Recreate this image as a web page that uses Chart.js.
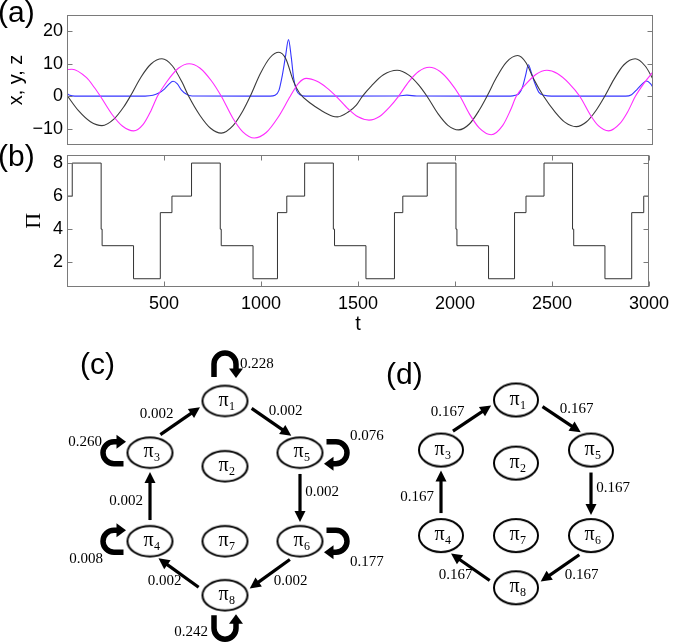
<!DOCTYPE html>
<html><head><meta charset="utf-8">
<script src="https://cdn.jsdelivr.net/npm/chart.js@4.4.0/dist/chart.umd.min.js"></script>
<style>
html,body{margin:0;padding:0;background:#fff;}
body{width:675px;height:642px;position:relative;overflow:hidden;}
canvas{position:absolute;}
.lbl{position:absolute;font-family:"Liberation Sans",Arial,sans-serif;font-size:30px;line-height:30px;color:#000;white-space:nowrap;}
</style></head><body>
<canvas id="ca" width="675" height="160" style="left:0;top:0"></canvas>
<canvas id="cb" width="675" height="200" style="left:0;top:140px"></canvas>
<canvas id="cc" width="360" height="302" style="left:40px;top:340px"></canvas>
<canvas id="cd" width="295" height="302" style="left:380px;top:340px"></canvas>
<div class="lbl" style="left:-2px;top:-3px">(a)</div>
<div class="lbl" style="left:-2px;top:141px">(b)</div>
<div class="lbl" style="left:80px;top:349px">(c)</div>
<div class="lbl" style="left:386px;top:359px">(d)</div>
<script>
// ===== DATA =====
// panel (a): x (black), y (magenta), z (blue) versus t
const tX = [0,60,120,179,240,290,324,380,430,486,540,590,623,680,735,790,850,900,938,990,1040,1085,1120,1160,1190,1250,1300,1360,1385,1440,1480,1512,1560,1620,1690,1750,1800,1843,1900,1950,2005,2060,2110,2150,2200,2250,2307,2350,2390,2440,2500,2550,2607,2660,2710,2753,2800,2850,2909,2960,3000];
const xVals = [0.3,-4.5,-7.8,-9.0,-7.0,-3.3,0,6.0,9.9,11.5,9.3,4.2,0,-5.8,-9.8,-11.3,-9.0,-4.5,0,7.0,11.9,13.5,11.5,4.5,1.0,-2.3,-4.3,-6.1,-6.3,-4.8,-2.8,0,3.3,6.6,8.0,6.5,3.5,0,-5.4,-8.9,-10.3,-8.5,-4.3,0,5.9,10.5,12.5,10.3,5.2,0,-4.9,-8.0,-9.3,-7.8,-4.2,0,5.2,9.6,11.5,9.3,5.3];
const tY = [0,25,100,140,171,230,285,341,390,430,463,510,570,625,680,740,790,850,900,959,1020,1080,1143,1185,1225,1280,1330,1378,1440,1490,1546,1600,1650,1697,1750,1800,1855,1910,1960,2012,2060,2110,2172,2230,2270,2300,2350,2400,2457,2510,2570,2625,2680,2720,2773,2830,2870,2910,2960,3000];
const yVals = [8.2,8.3,5.7,2.7,0,-5.5,-9.2,-10.6,-8.6,-4.4,0,4.4,8.6,10.0,8.7,4.7,0,-6.8,-10.9,-12.8,-11.1,-6.5,0,4.0,5.5,4.6,2.6,0,-3.9,-6.3,-7.3,-6.2,-3.4,0,4.5,7.6,8.9,7.6,4.5,0,-5.4,-9.7,-11.8,-9.0,-4.3,0,3.8,6.7,8.0,7.0,4.0,0,-5.8,-9.0,-10.6,-8.4,-4.8,0,4.5,7.5];
const tZ = [0,15,40,400,440,470,500,520,543,565,585,610,640,1040,1065,1085,1100,1118,1134,1148,1160,1175,1195,1220,1700,1740,1790,2270,2295,2315,2331,2348,2362,2376,2391,2416,2443,2480,2860,2890,2920,2945,2968,2988,3000];
const zVals = [0.8,0.3,0.05,0.05,0.3,1.0,2.3,3.6,4.6,3.8,2.0,0.7,0.1,0.05,0.3,1.8,5.7,12.0,17.4,12.0,5.7,1.8,0.4,0.05,0.1,0.35,0.08,0.05,0.3,0.9,2.7,6.5,9.7,7.5,4.7,1.2,0.3,0.05,0.05,0.5,2.2,3.8,4.7,3.8,2.7];
// panel (b): symbolic state Pi versus t (value holds from each t onward)
const tPi = [0,27,176,181,343,481,541,642,790,795,959,1085,1133,1225,1373,1379,1541,1688,1731,1857,2005,2010,2173,2307,2366,2459,2606,2612,2773,2911,2973,3000];
const piVals = [6,8,4,3,1,5,6,8,4,3,1,5,6,8,4,3,1,5,6,8,4,3,1,5,6,8,4,3,1,5,6,6];
const ticksXYZ = [-10,0,10,20];
const ticksPi = [2,4,6,8];
const ticksT = [500,1000,1500,2000,2500,3000];
// panels (c),(d): transition graphs
const nodeIds = [1,2,3,4,5,6,7,8];
const edgeFrom = [3,1,5,6,8,4];
const edgeTo   = [1,5,6,8,4,3];
const edgeProbC = [0.002,0.002,0.002,0.002,0.002,0.002];
const edgeProbD = [0.167,0.167,0.167,0.167,0.167,0.167];
const loopNodeC = [1,3,5,6,4,8];
const loopProbC = [0.228,0.260,0.076,0.177,0.008,0.242];

// ===== LAYOUT (graph placement, label offsets) =====
const nodeCol = {1:1,2:1,3:0,4:0,5:2,6:2,7:1,8:1};
const nodeRow = {1:0,2:0.87,3:0.69,4:1.87,5:0.69,6:1.87,7:1.87,8:2.59};
const edgeLblDx = [-31,23,22,28,-23,-24];
const edgeLblDy = [-13,-16,-5,13,13,4];
const loopDir   = {1:-Math.PI/2,3:Math.PI,5:0,6:0,4:Math.PI,8:Math.PI/2};
const loopSign  = {1:1,3:1,5:1,6:1,4:1,8:-1};
const loopDist  = {1:37,3:36,5:36,6:36,4:36,8:33};
const loopLbl   = {1:[15,-37,'left'],3:[-48,-11,'right'],5:[50,-17,'left'],6:[50,21,'left'],4:[-47,18,'right'],8:[-17,37,'right']};

const SANS = '"Liberation Sans", Arial, sans-serif';
const SERIF = '"Liberation Serif", "Times New Roman", serif';
const pts = (ts, vs) => ts.map((t,i)=>({x:t,y:vs[i]}));
const minus = v => v < 0 ? '\u2212' + Math.abs(v) : String(v);

const boxPlugin = {
  id:'box',
  afterDraw(chart, args, o) {
    const {ctx, chartArea:{left,right,top,bottom}} = chart;
    ctx.save(); ctx.strokeStyle = '#7a7a7a'; ctx.lineWidth = 1;
    const L = Math.round(left)+0.5, R = Math.round(right)-0.5, T = Math.round(top)+0.5, B = Math.round(bottom)-0.5;
    ctx.strokeRect(L, T, R-L, B-T);
    ctx.beginPath();
    const ys = chart.scales.y, xs = chart.scales.x;
    (o.yTicks||[]).forEach(v => { const p = Math.round(ys.getPixelForValue(v))+0.5; ctx.moveTo(L,p); ctx.lineTo(L+5,p); ctx.moveTo(R,p); ctx.lineTo(R-5,p); });
    (o.xTicks||[]).forEach(v => { const p = Math.round(xs.getPixelForValue(v))+0.5; ctx.moveTo(p,T); ctx.lineTo(p,T+5); ctx.moveTo(p,B); ctx.lineTo(p,B-5); });
    ctx.stroke(); ctx.restore();
  }
};

function yAxis(ticks, title, titleFont, titlePad, fmt) {
  return {
    type:'linear',
    afterBuildTicks: s => { s.ticks = ticks.map(v => ({value:v})); },
    afterFit: s => { s.width = 67; },
    grid:{display:false, drawTicks:false}, border:{display:false},
    ticks:{padding:4, color:'#000', font:{family:SANS, size:18}, callback: fmt},
    title:{display:true, text:title, color:'#000', font:titleFont, padding:{top:titlePad, bottom:0}}
  };
}

new Chart(document.getElementById('ca'), {
  type:'line',
  data:{datasets:[
    {data:pts(tY,yVals), borderColor:'#ff2bff', borderWidth:1.1, pointRadius:0, cubicInterpolationMode:'monotone'},
    {data:pts(tX,xVals), borderColor:'#3a3a3a', borderWidth:1.1, pointRadius:0, cubicInterpolationMode:'monotone'},
    {data:pts(tZ,zVals), borderColor:'#3535ff', borderWidth:1.1, pointRadius:0, cubicInterpolationMode:'monotone'}
  ]},
  options:{
    responsive:false, animation:false, events:[],
    layout:{padding:{left:0, right:22, top:12, bottom:14}},
    plugins:{legend:{display:false}, tooltip:{enabled:false}, box:{yTicks:ticksXYZ}},
    scales:{
      x:{type:'linear', min:0, max:3000, display:false},
      y:Object.assign(yAxis(ticksXYZ, 'x, y, z', {family:SANS, size:20}, 4, minus), {min:-15, max:25})
    }
  },
  plugins:[boxPlugin]
});

new Chart(document.getElementById('cb'), {
  type:'line',
  data:{datasets:[
    {data:pts(tPi,piVals), borderColor:'#333', borderWidth:1, pointRadius:0, stepped:'before'}
  ]},
  options:{
    responsive:false, animation:false, events:[],
    layout:{padding:{left:0, right:22, top:14, bottom:0}},
    plugins:{legend:{display:false}, tooltip:{enabled:false}, box:{yTicks:ticksPi, xTicks:ticksT}},
    scales:{
      x:{type:'linear', min:0, max:3000,
        afterBuildTicks: s => { s.ticks = ticksT.map(v => ({value:v})); },
        afterFit: s => { s.height = 53; },
        grid:{display:false, drawTicks:false}, border:{display:false},
        ticks:{padding:6, color:'#000', maxRotation:0, autoSkip:false, font:{family:SANS, size:18}, callback: v => String(v)},
        title:{display:true, text:'t', color:'#000', font:{family:SANS, size:20}, padding:{top:0, bottom:4}}
      },
      y:Object.assign(yAxis(ticksPi, '\u03A0', {family:SERIF, size:22}, 21, v => String(v)), {min:0.5, max:8.5})
    }
  },
  plugins:[boxPlugin]
});

function exitDist(ox, oy, ux, uy, rx, ry) {
  const A = ux*ux/(rx*rx) + uy*uy/(ry*ry);
  const B = 2*(ox*ux/(rx*rx) + oy*uy/(ry*ry));
  const C = ox*ox/(rx*rx) + oy*oy/(ry*ry) - 1;
  const d = B*B - 4*A*C;
  if (d < 0) return 0;
  return Math.max(0, (-B + Math.sqrt(d))/(2*A));
}
function drawArrow(ctx, x1, y1, x2, y2, lw, hl, hw) {
  const dx = x2-x1, dy = y2-y1, L = Math.hypot(dx,dy), ux = dx/L, uy = dy/L;
  const bx = x2-ux*hl, by = y2-uy*hl;
  ctx.lineWidth = lw; ctx.lineCap = 'butt';
  ctx.beginPath(); ctx.moveTo(x1,y1); ctx.lineTo(bx+ux*1.5, by+uy*1.5); ctx.stroke();
  ctx.beginPath(); ctx.moveTo(x2,y2); ctx.lineTo(bx-uy*hw, by+ux*hw); ctx.lineTo(bx+uy*hw, by-ux*hw); ctx.closePath(); ctx.fill();
}

const graphPlugin = {
  id:'graph',
  afterDatasetsDraw(chart, args, o) {
    const ctx = chart.ctx, xs = chart.scales.x, ys = chart.scales.y;
    const P = n => ({x:xs.getPixelForValue(nodeCol[n]), y:ys.getPixelForValue(nodeRow[n])});
    const rx = o.rx, ry = o.ry;
    const ring = [1,5,6,8,4,3]; let hx = 0, hy = 0;
    ring.forEach(n => { const p = P(n); hx += p.x/6; hy += p.y/6; });
    ctx.save(); ctx.fillStyle = '#000'; ctx.strokeStyle = '#000';
    edgeFrom.forEach((f,i) => {
      const a = P(f), b = P(edgeTo[i]);
      let ux = b.x-a.x, uy = b.y-a.y; const L = Math.hypot(ux,uy); ux /= L; uy /= L;
      let nx = -uy, ny = ux; const mx = (a.x+b.x)/2, my = (a.y+b.y)/2;
      if ((mx-hx)*nx + (my-hy)*ny < 0) { nx = -nx; ny = -ny; }
      const off = 11*Math.abs(ux), ox = nx*off, oy = ny*off;
      const s1 = exitDist(ox,oy,ux,uy,rx,ry), s2 = exitDist(ox,oy,-ux,-uy,rx,ry);
      drawArrow(ctx, a.x+ox+ux*(s1+6), a.y+oy+uy*(s1+6), b.x+ox-ux*(s2+4), b.y+oy-uy*(s2+4), 3.2, 11, 5.5);
      ctx.font = '15px ' + SERIF; ctx.textAlign = 'center'; ctx.textBaseline = 'middle';
      ctx.fillText(o.probs[i].toFixed(3), mx+edgeLblDx[i], my+edgeLblDy[i]);
    });
    (o.loops||[]).forEach((n,i) => {
      const c = P(n), dir = loopDir[n], sg = loopSign[n];
      const ux = Math.cos(dir), uy = Math.sin(dir);
      const bd = 1/Math.sqrt((ux/rx)**2 + (uy/ry)**2);
      const D = loopDist[n], R = 11, lx = c.x+ux*D, ly = c.y+uy*D;
      const gap = D - bd;
      const tailLen = Math.min(gap-4, 13), tip = Math.min(gap-1.5, 14), hl = 9.5;
      const aT = sg > 0 ? dir-Math.PI/2 : dir+Math.PI/2, aH = sg > 0 ? dir+Math.PI/2 : dir-Math.PI/2;
      const tx = lx+R*Math.cos(aT), ty = ly+R*Math.sin(aT), hx2 = lx+R*Math.cos(aH), hy2 = ly+R*Math.sin(aH);
      ctx.lineWidth = 5.5; ctx.lineCap = 'butt';
      ctx.beginPath(); ctx.moveTo(tx-ux*tailLen, ty-uy*tailLen); ctx.lineTo(tx,ty);
      ctx.arc(lx, ly, R, aT, aH, sg < 0);
      const baseD = tip - hl;
      ctx.lineTo(hx2-ux*(baseD+1), hy2-uy*(baseD+1)); ctx.stroke();
      const bx = hx2-ux*baseD, by = hy2-uy*baseD, px = hx2-ux*tip, py = hy2-uy*tip;
      ctx.beginPath(); ctx.moveTo(px,py); ctx.lineTo(bx-uy*7, by+ux*7); ctx.lineTo(bx+uy*7, by-ux*7); ctx.closePath(); ctx.fill();
      const lb = loopLbl[n];
      ctx.font = '15px ' + SERIF; ctx.textAlign = lb[2]; ctx.textBaseline = 'middle';
      ctx.fillText(o.loopProbs[i].toFixed(3), c.x+lb[0], c.y+lb[1]);
    });
    nodeIds.forEach(n => {
      const p = P(n);
      ctx.textAlign = 'left'; ctx.textBaseline = 'alphabetic';
      ctx.font = '20px ' + SERIF; ctx.fillText('\u03C0', p.x-6.5, p.y+4.5);
      ctx.font = '12px ' + SERIF; ctx.fillText(String(n), p.x+4, p.y+8.5);
    });
    ctx.restore();
  }
};

function ellipseImg(rx, ry) {
  const c = document.createElement('canvas');
  c.width = Math.ceil(rx*2+4); c.height = Math.ceil(ry*2+4);
  const g = c.getContext('2d');
  g.beginPath(); g.ellipse(c.width/2, c.height/2, rx, ry, 0, 0, Math.PI*2);
  g.fillStyle = '#fff'; g.fill(); g.lineWidth = 2; g.strokeStyle = '#000'; g.stroke();
  return c;
}

function graph(id, xr, yr, rx, ry, probs, loops, loopProbs) {
  new Chart(document.getElementById(id), {
    type:'scatter',
    data:{datasets:[{data:nodeIds.map(n => ({x:nodeCol[n], y:nodeRow[n]})), pointStyle:ellipseImg(rx,ry), pointRadius:1}]},
    options:{
      responsive:false, animation:false, events:[],
      layout:{padding:0, autoPadding:false},
      plugins:{legend:{display:false}, tooltip:{enabled:false}, graph:{rx, ry, probs, loops, loopProbs}},
      scales:{
        x:{type:'linear', display:false, min:xr[0], max:xr[1]},
        y:{type:'linear', display:false, reverse:true, min:yr[0], max:yr[1]}
      }
    },
    plugins:[graphPlugin]
  });
}
graph('cc', [-110/75, -110/75+360/75], [-61/75, -61/75+302/75], 22.5, 15.2, edgeProbC, loopNodeC, loopProbC);
graph('cd', [-61/75, -61/75+295/75], [-60/72.5, -60/72.5+302/72.5], 22, 16.5, edgeProbD, [], []);
</script>
</body></html>
